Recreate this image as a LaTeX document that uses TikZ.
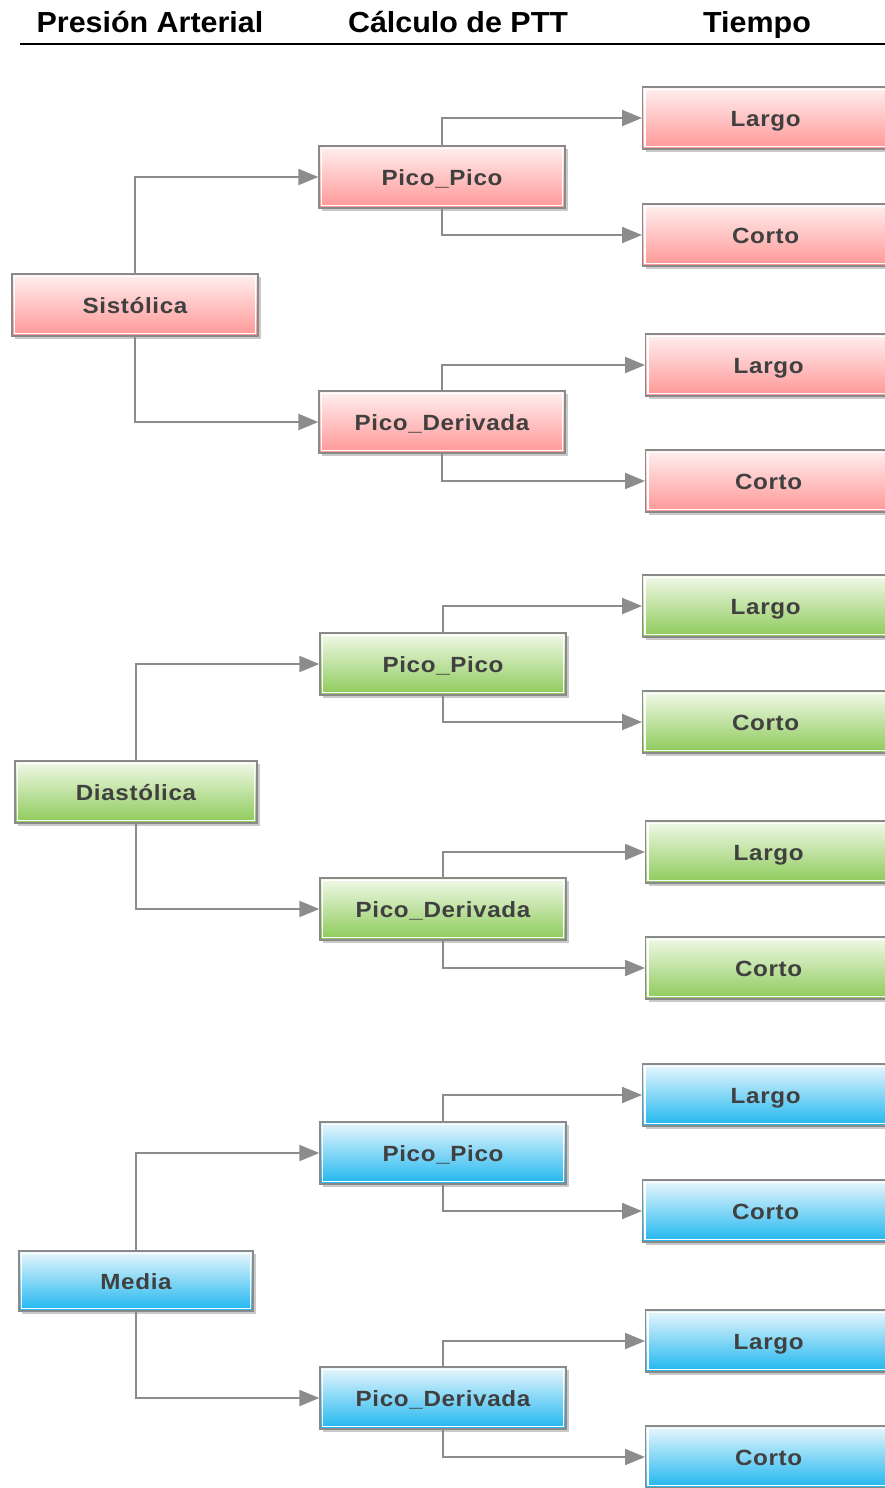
\documentclass[tikz,border=0pt]{standalone}
\usepackage{fontspec}
\setmainfont{Liberation Sans}
\newfontfamily\boxfont[LetterSpace=3,FakeStretch=1.1]{Liberation Sans}
\newfontfamily\headfont[FakeStretch=1.05]{Liberation Sans}
\usetikzlibrary{arrows.meta,shadows}
\definecolor{redtop}{HTML}{FFF0F0}
\definecolor{redbot}{HTML}{FF9696}
\definecolor{greentop}{HTML}{F2F9EA}
\definecolor{greenbot}{HTML}{8CCA58}
\definecolor{bluetop}{HTML}{EAF7FD}
\definecolor{bluebot}{HTML}{1DB6EF}
\definecolor{edgegray}{HTML}{8A8A8A}
\definecolor{conngray}{HTML}{8C8C8C}
\definecolor{txtgray}{HTML}{404040}
\tikzset{
  box/.style={draw=edgegray, line width=1.3pt, minimum width=246pt, minimum height=62pt,
    inner sep=0pt, text height=17pt, text depth=0pt,
    font=\boxfont\bfseries\fontsize{22}{26}\selectfont, text=txtgray,
    drop shadow={shadow xshift=3pt, shadow yshift=-3pt, opacity=0.35, fill=black!60},
    path picture={\draw[white, line width=1.5pt]
      ([shift={(2.5pt,-2.5pt)}]path picture bounding box.north west) rectangle
      ([shift={(-2.5pt,2.5pt)}]path picture bounding box.south east);}},
  redbox/.style={box, top color=redtop, bottom color=redbot},
  greenbox/.style={box, top color=greentop, bottom color=greenbot},
  bluebox/.style={box, top color=bluetop, bottom color=bluebot},
  conn/.style={draw=conngray, line width=2pt, -{Triangle[length=20pt,width=16pt,fill=conngray]}},
  head/.style={font=\headfont\bfseries\fontsize{29}{32}\selectfont, text=black, anchor=base, inner sep=0pt}
}
\begin{document}
\begin{tikzpicture}[x=1pt,y=-1pt]
\clip (0,0) rectangle (885,1488);
\fill[white] (0,0) rectangle (885,1488);
% header
\node[head] (h1) at (150,33) {Presión Arterial};
\node[head] (h2) at (458,33) {Cálculo de PTT};
\node[head] (h3) at (757,33) {Tiempo};
\draw[line width=2pt] (20,44) -- (885,44);

% ---------- red group
\node[redbox] (s) at (135,305) {Sistólica};
\node[redbox] (spp) at (442,177) {Pico\_Pico};
\node[redbox] (spd) at (442,422) {Pico\_Derivada};
\node[redbox, anchor=west] (spl) at (642,118) {Largo};
\node[redbox, anchor=west] (spc) at (642,235) {Corto};
\node[redbox, anchor=west] (sdl) at (645,365) {Largo};
\node[redbox, anchor=west] (sdc) at (645,481) {Corto};
\draw[conn] (s.north) |- (spp.west);
\draw[conn] (s.south) |- (spd.west);
\draw[conn] (spp.north) |- (spl.west);
\draw[conn] (spp.south) |- (spc.west);
\draw[conn] (spd.north) |- (sdl.west);
\draw[conn] (spd.south) |- (sdc.west);

% ---------- green group
\node[greenbox, minimum width=242pt] (d) at (136,792) {Diastólica};
\node[greenbox] (dpp) at (443,664) {Pico\_Pico};
\node[greenbox] (dpd) at (443,909) {Pico\_Derivada};
\node[greenbox, anchor=west] (dpl) at (642,606) {Largo};
\node[greenbox, anchor=west] (dpc) at (642,722) {Corto};
\node[greenbox, anchor=west] (ddl) at (645,852) {Largo};
\node[greenbox, anchor=west] (ddc) at (645,968) {Corto};
\draw[conn] (d.north) |- (dpp.west);
\draw[conn] (d.south) |- (dpd.west);
\draw[conn] (dpp.north) |- (dpl.west);
\draw[conn] (dpp.south) |- (dpc.west);
\draw[conn] (dpd.north) |- (ddl.west);
\draw[conn] (dpd.south) |- (ddc.west);

% ---------- blue group
\node[bluebox, minimum width=234pt, minimum height=60pt] (m) at (136,1281) {Media};
\node[bluebox] (mpp) at (443,1153) {Pico\_Pico};
\node[bluebox] (mpd) at (443,1398) {Pico\_Derivada};
\node[bluebox, anchor=west] (mpl) at (642,1095) {Largo};
\node[bluebox, anchor=west] (mpc) at (642,1211) {Corto};
\node[bluebox, anchor=west] (mdl) at (645,1341) {Largo};
\node[bluebox, anchor=west] (mdc) at (645,1457) {Corto};
\draw[conn] (m.north) |- (mpp.west);
\draw[conn] (m.south) |- (mpd.west);
\draw[conn] (mpp.north) |- (mpl.west);
\draw[conn] (mpp.south) |- (mpc.west);
\draw[conn] (mpd.north) |- (mdl.west);
\draw[conn] (mpd.south) |- (mdc.west);
\end{tikzpicture}
\end{document}
